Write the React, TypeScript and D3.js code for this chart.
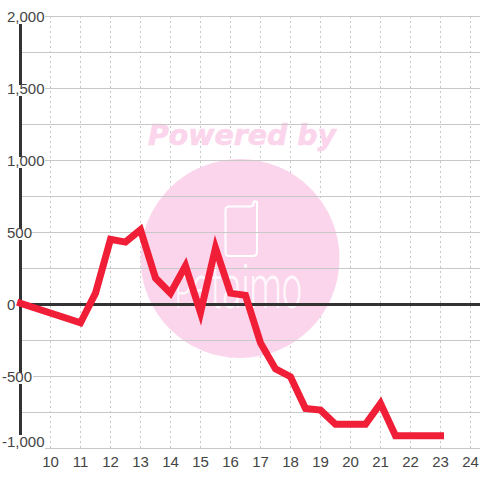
import React from "react";
import * as d3 from "d3";

const hours = [9, 11, 11.5, 12, 12.5, 13, 13.5, 14, 14.5, 15, 15.5, 16, 16.5, 17, 17.5, 18, 18.5, 19, 19.5, 20.5, 21, 21.5, 23];
const values = [5, -130, 75, 450, 430, 515, 180, 75, 265, -60, 390, 75, 60, -270, -451, -505, -725, -737, -835, -835, -690, -915, -915];
const xTicks = [10, 11, 12, 13, 14, 15, 16, 17, 18, 19, 20, 21, 22, 23, 24];
const yLabels = ["2,000", "1,500", "1,000", "500", "0", "-500", "-1,000"];
const yLabelValues = [2000, 1500, 1000, 500, 0, -500, -1000];
const yGrid = [2000, 1750, 1500, 1250, 1000, 750, 500, 250, -250, -500, -750, -1000];

const font = "'Liberation Sans', Arial, sans-serif";
const pink = "#fbd5ec";

export default function App() {
  const x = d3.scaleLinear().domain([9, 24]).range([20.5, 470.5]);
  const y = d3.scaleLinear().domain([-1000, 2000]).range([448, 16]);
  const line = d3.line<number>().x((_, i) => x(hours[i])).y((d) => y(d));
  return (
    <svg width={480} height={480} style={{ position: "fixed", left: 0, top: 0, background: "#fff" }}>
      {xTicks.map((t) => (
        <line key={t} x1={x(t)} x2={x(t)} y1={16} y2={448} stroke="#c8c8c8" strokeWidth={1} strokeDasharray="2 3" />
      ))}
      <circle cx={240} cy={258.5} r={99.5} fill={pink} />
      <text x={148} y={144.5} fontFamily="'DejaVu Sans'" fontWeight={700} fontStyle="italic" fontSize={28.4} fill={pink} stroke={pink} strokeWidth={0.6}>Powered by</text>
      <path d="M229 206.5 H250 Q253 206.5 253.5 204 V203 A1.7 1.7 0 0 1 257 203 V252 Q257 256 253 256 H229 Q225.5 256 225.5 252 V210 Q225.5 206.5 229 206.5 Z" fill="none" stroke="#fff" strokeWidth={2} />
      <text transform="translate(175,308) scale(0.585,1)" fontFamily="Roboto" fontWeight={300} fill="#fff" fillOpacity={0.85} fontSize={62}>
        <tspan fontSize={46}>P</tspan>etaimo
      </text>
      {yGrid.map((t) => (
        <line key={t} x1={20} x2={480} y1={y(t) + 0.5} y2={y(t) + 0.5} stroke="#c8c8c8" strokeWidth={1} />
      ))}
      <line x1={20.5} x2={20.5} y1={16} y2={448} stroke="#333" strokeWidth={3} />
      <line x1={20} x2={480} y1={304.5} y2={304.5} stroke="#333" strokeWidth={3} />
      {yLabelValues.map((t, i) => {
        const neg = t < 0;
        const left = neg ? 2 : 7;
        const w = [38, 38, 38, 24, 10, 31, 43][i];
        const top = t === -1000 ? 435 : y(t) - 3;
        const h = t === -1000 ? 14 : t === 2000 ? 8 : 11;
        const base = t === -1000 ? 447 : y(t) + 6;
        return (
          <g key={t}>
            {t !== 0 && <rect x={left} y={t === 2000 ? 12 : top} width={w} height={t === 2000 ? 12 : h} fill="#fff" />}
            <text x={left} y={base} fontFamily={font} fontSize={15} fill="#444">{yLabels[i]}</text>
          </g>
        );
      })}
      {xTicks.map((t) => (
        <text key={t} x={x(t)} y={467} textAnchor="middle" fontFamily={font} fontSize={15} fill="#444">{t}</text>
      ))}
      <path d={line(values) ?? ""} fill="none" stroke="#f01e37" strokeWidth={7} strokeLinejoin="miter" strokeLinecap="square" />
    </svg>
  );
}
